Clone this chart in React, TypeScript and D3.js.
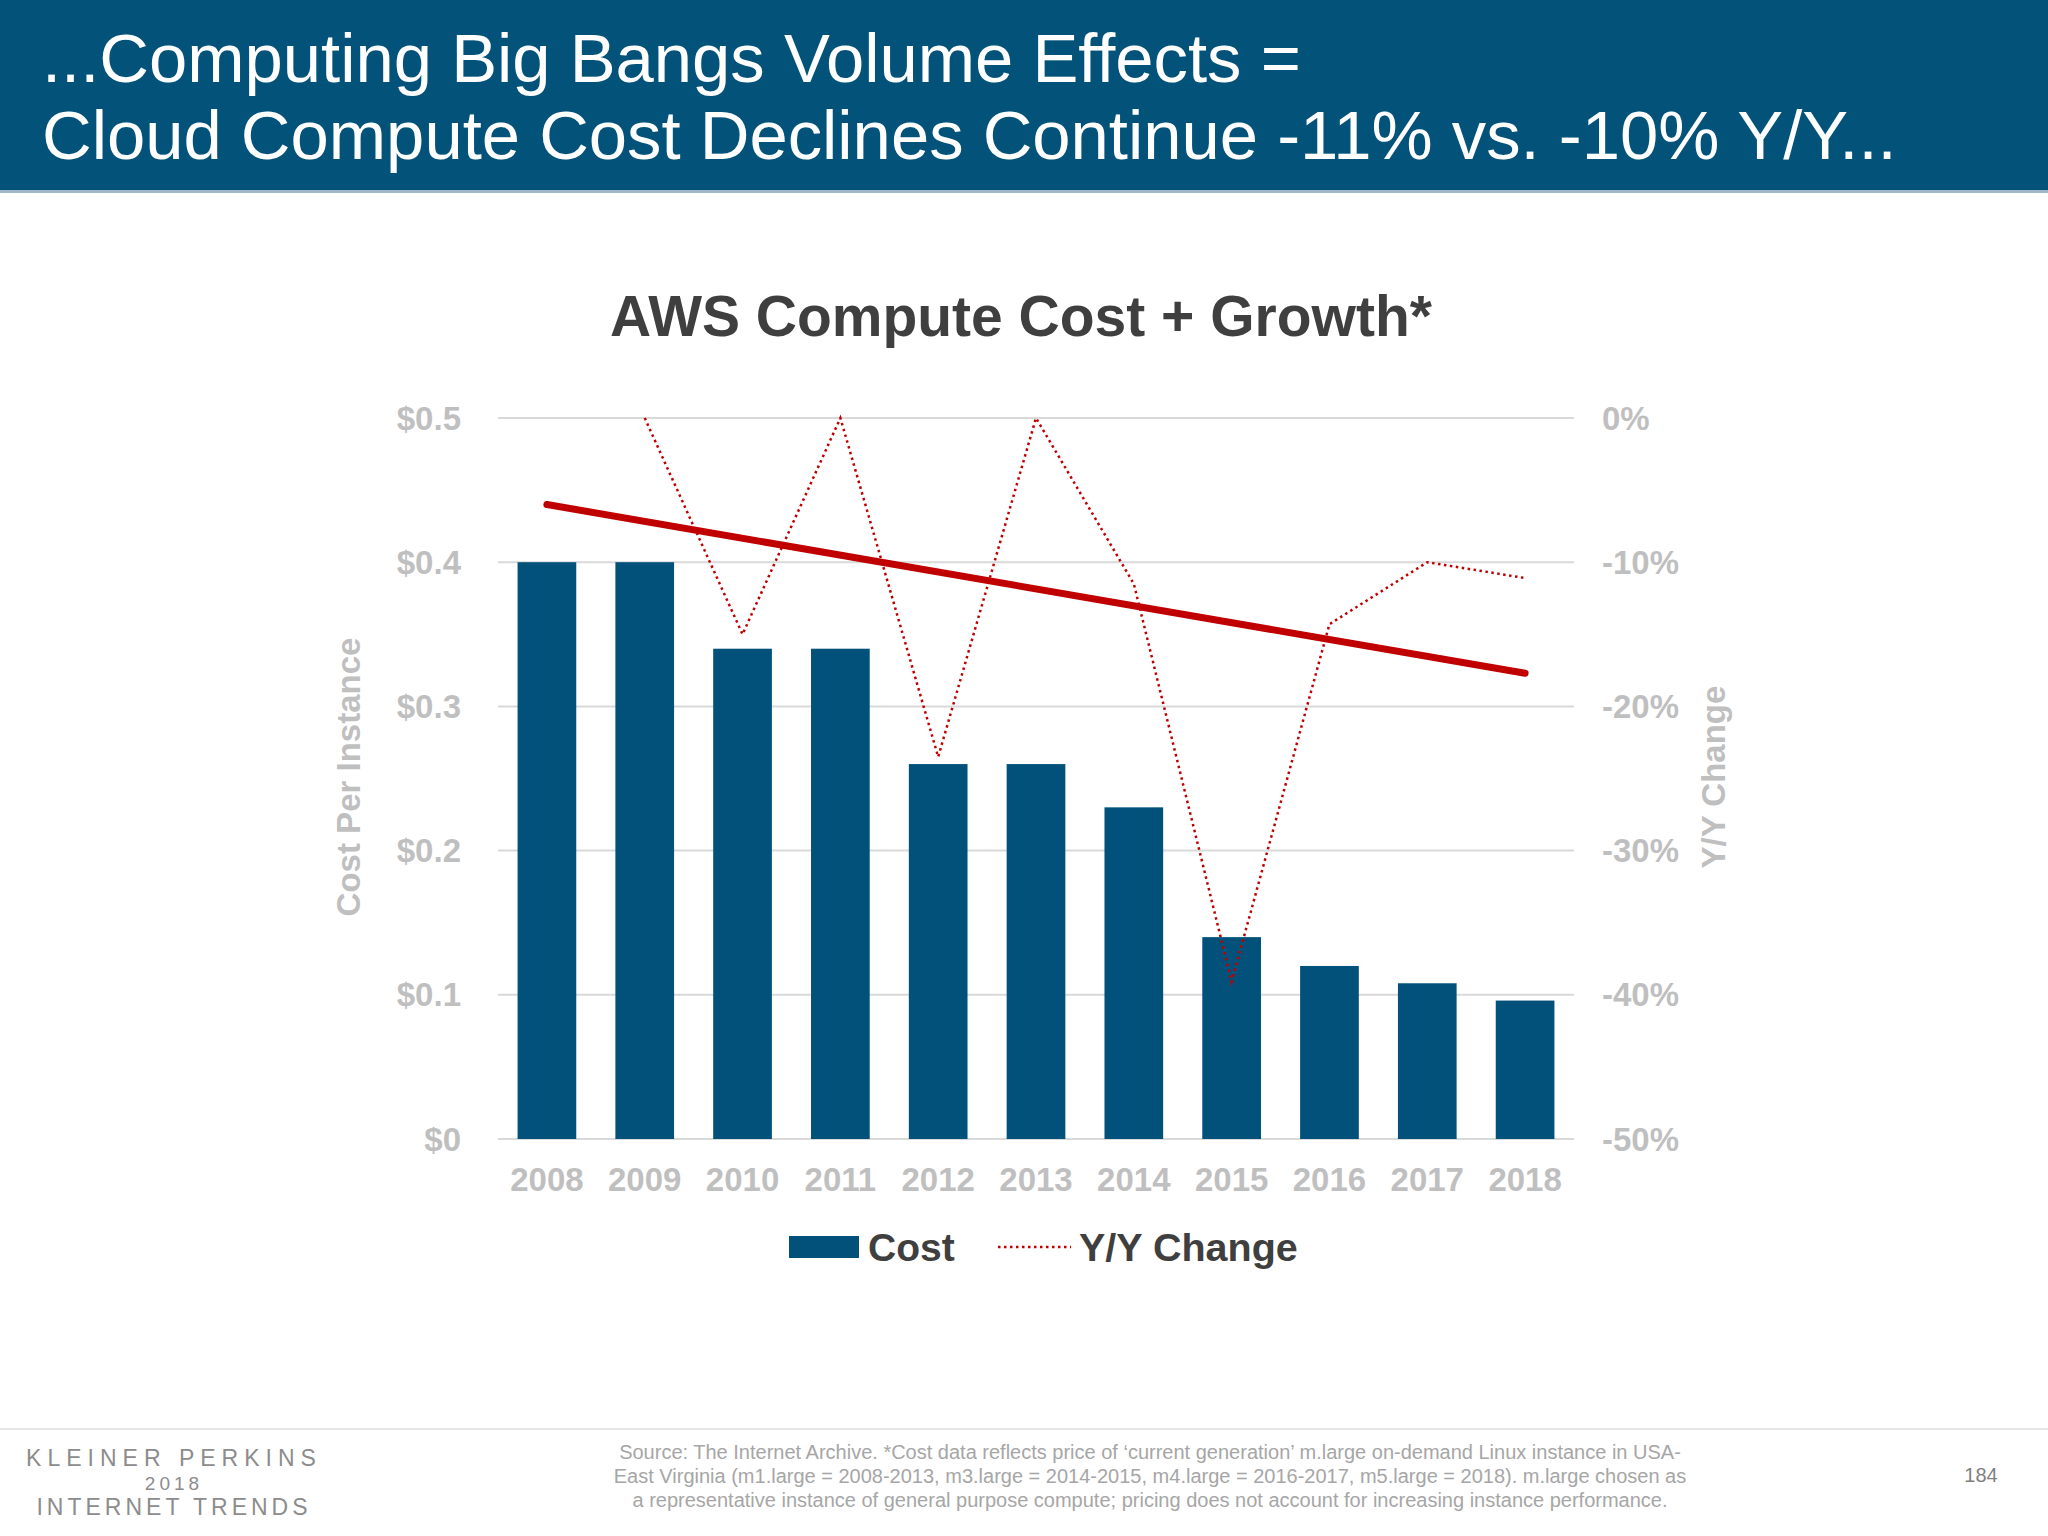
import React from 'react';
import * as d3 from 'd3';

// data
const years = ['2008', '2009', '2010', '2011', '2012', '2013', '2014', '2015', '2016', '2017', '2018'];
const cost = [0.4, 0.4, 0.34, 0.34, 0.26, 0.26, 0.23, 0.14, 0.12, 0.108, 0.096];
const yoyChange: (number | null)[] = [null, 0, -15, 0, -23.5, 0, -11.5, -39.1, -14.3, -10, -11.1];
const trendYears = ['2008', '2018'];
const trendValues = [-6.0, -17.7];
const costTicks = [0, 0.1, 0.2, 0.3, 0.4, 0.5];
const pctTicks = [0, -10, -20, -30, -40, -50];

const titleLines = ['...Computing Big Bangs Volume Effects =', 'Cloud Compute Cost Declines Continue -11% vs. -10% Y/Y...'];
const sourceLines = [
  'Source: The Internet Archive.  *Cost data reflects price of \u2018current generation\u2019 m.large on-demand Linux instance in USA-',
  'East Virginia (m1.large = 2008-2013, m3.large = 2014-2015, m4.large = 2016-2017, m5.large = 2018). m.large chosen as',
  'a representative instance of general purpose compute; pricing does not account for increasing instance performance.',
];

const W = 2048;
const H = 1536;
const FONT = '"Liberation Sans", Arial, Helvetica, sans-serif';
const BLUE = '#01517B';
const RED = '#C00000';
const AXIS_GRAY = '#BFBFBF';
const GRID = '#D9D9D9';

const plot = { left: 498, right: 1574, top: 418, bottom: 1139 };

export default function App() {
  const x = d3.scaleBand<string>()
    .domain(years)
    .range([plot.left, plot.right])
    .paddingInner(0.4)
    .paddingOuter(0.2);

  const yCost = d3.scaleLinear().domain([0, 0.5]).range([plot.bottom, plot.top]);
  const yPct = d3.scaleLinear().domain([-50, 0]).range([plot.bottom, plot.top]);

  const cx = (yr: string) => (x(yr) ?? 0) + x.bandwidth() / 2;

  const yoyLine = d3.line<number | null>()
    .defined(d => d != null)
    .x((_, i) => cx(years[i]))
    .y(d => yPct(d as number));

  const trendLine = d3.line<number>()
    .x((_, i) => cx(trendYears[i]))
    .y(d => yPct(d));

  const fmtCost = (v: number) => (v === 0 ? '$0' : `$${d3.format('.1f')(v)}`);

  return (
    <>
      <style>{'body{margin:0}'}</style>
      <svg width={W} height={H} viewBox={`0 0 ${W} ${H}`} style={{ display: 'block', fontFamily: FONT }}>
        <rect width={W} height={H} fill="#ffffff" />

        {/* header band */}
        <rect x={0} y={0} width={W} height={192} fill="#02527A" />
        <rect x={0} y={190} width={W} height={3} fill="#9FB7C7" />
        {titleLines.map((t, i) => (
          <text key={t} x={42} y={82 + i * 77} fill="#ffffff" fontSize={68.8}>{t}</text>
        ))}

        {/* chart title */}
        <text x={1021} y={336} textAnchor="middle" fontSize={57} fontWeight="bold" fill="#3F3F3F">
          AWS Compute Cost + Growth*
        </text>

        {/* gridlines */}
        {costTicks.map(t => (
          <line key={t} x1={plot.left} x2={plot.right} y1={yCost(t)} y2={yCost(t)} stroke={GRID} strokeWidth={2} />
        ))}

        {/* left axis labels */}
        {costTicks.map(t => (
          <text key={t} x={461} y={yCost(t)} dy="0.35em" textAnchor="end" fontSize={33} fontWeight="bold" fill={AXIS_GRAY}>
            {fmtCost(t)}
          </text>
        ))}
        <text transform={`translate(360, 777) rotate(-90)`} textAnchor="middle" fontSize={33} fontWeight="bold" fill={AXIS_GRAY}>
          Cost Per Instance
        </text>

        {/* right axis labels */}
        {pctTicks.map(t => (
          <text key={t} x={1602} y={yPct(t)} dy="0.35em" textAnchor="start" fontSize={33} fontWeight="bold" fill={AXIS_GRAY}>
            {`${t}%`}
          </text>
        ))}
        <text transform={`translate(1725, 777) rotate(-90)`} textAnchor="middle" fontSize={33} fontWeight="bold" fill={AXIS_GRAY}>
          Y/Y Change
        </text>

        {/* bars */}
        {years.map((yr, i) => (
          <rect key={yr} x={x(yr)} y={yCost(cost[i])} width={x.bandwidth()} height={yCost(0) - yCost(cost[i])} fill={BLUE} />
        ))}

        {/* x labels */}
        {years.map(yr => (
          <text key={yr} x={cx(yr)} y={1191} textAnchor="middle" fontSize={33} fontWeight="bold" fill={AXIS_GRAY}>
            {yr}
          </text>
        ))}

        {/* trend */}
        <path d={trendLine(trendValues) ?? ''} fill="none" stroke={RED} strokeWidth={7} strokeLinecap="round" />

        {/* y/y change dotted */}
        <path d={yoyLine(yoyChange) ?? ''} fill="none" stroke={RED} strokeWidth={2.5} strokeDasharray="2.5 3.5" />

        {/* legend */}
        <rect x={789} y={1236} width={70} height={22} fill={BLUE} />
        <text x={868} y={1261} fontSize={39} fontWeight="bold" fill="#3F3F3F">Cost</text>
        <line x1={998} x2={1071} y1={1247} y2={1247} stroke={RED} strokeWidth={2.5} strokeDasharray="2.5 3.5" />
        <text x={1079} y={1261} fontSize={39.5} fontWeight="bold" fill="#3F3F3F">Y/Y Change</text>

        {/* footer */}
        <line x1={0} x2={W} y1={1429} y2={1429} stroke="#E6E6E6" strokeWidth={2} />
        <text x={174} y={1466} textAnchor="middle" fontSize={23} letterSpacing={6} fill="#8C8C8C">KLEINER PERKINS</text>
        <text x={174} y={1490} textAnchor="middle" fontSize={19} letterSpacing={4} fill="#8C8C8C">2018</text>
        <text x={174} y={1515} textAnchor="middle" fontSize={23} letterSpacing={4} fill="#8C8C8C">INTERNET TRENDS</text>
        {sourceLines.map((s, i) => (
          <text key={i} x={1150} y={1459 + i * 24} textAnchor="middle" fontSize={20} fill="#A6A6A6">{s}</text>
        ))}
        <text x={1981} y={1482} textAnchor="middle" fontSize={20} fill="#7F7F7F">184</text>
      </svg>
    </>
  );
}
